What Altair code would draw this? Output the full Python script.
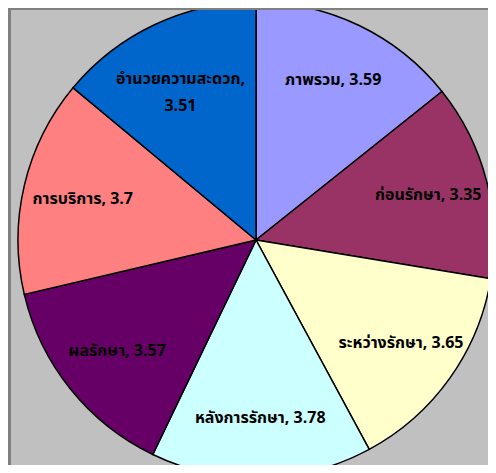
import altair as alt
import pandas as pd

categories = ["ภาพรวม", "ก่อนรักษา", "ระหว่างรักษา", "หลังการรักษา",
              "ผลรักษา", "การบริการ", "อำนวยความสะดวก"]
values = [3.59, 3.35, 3.65, 3.78, 3.57, 3.7, 3.51]
colors = ["#9999FF", "#993366", "#FFFFCC", "#CCFFFF", "#660066", "#FF8080", "#0066CC"]

labels = []
for c, v in zip(categories, values):
    sep = ",\n" if len(c) > 13 else ", "
    labels.append(f"{c}{sep}{v}")

df = pd.DataFrame({"idx": list(range(len(categories))), "cat": categories,
                   "value": values, "label": labels})

W, H = 480, 457
CX, CY = 248, 232
R = 238

base = alt.Chart(df)

arcs = base.mark_arc(stroke="black", strokeWidth=1.5).encode(
    theta=alt.Theta("value:Q", stack=True),
    order=alt.Order("idx:Q", sort="ascending"),
    color=alt.Color("cat:N", scale=alt.Scale(domain=categories, range=colors), legend=None),
    x=alt.value(CX), y=alt.value(CY),
    radius=alt.value(R),
)

text = base.mark_text(fontSize=16, fontWeight="bold", color="black",
                      font="Tahoma, Noto Sans Thai, Loma, Garuda, Noto Sans, DejaVu Sans",
                      lineBreak="\n", lineHeight=27, align="center", baseline="middle").encode(
    theta=alt.Theta("value:Q", stack=True),
    order=alt.Order("idx:Q", sort="ascending"),
    text="label:N",
    x=alt.value(CX), y=alt.value(CY),
    radius=alt.value(178),
)

left_border = base.mark_rule(color="#808080", strokeWidth=3).encode(
    x=alt.value(1.5), y=alt.value(0), y2=alt.value(H))
top_border = base.mark_rule(color="#808080", strokeWidth=3).encode(
    y=alt.value(0), x=alt.value(0), x2=alt.value(W))

chart = alt.layer(arcs, text, left_border, top_border).properties(
    width=W, height=H,
    autosize=alt.AutoSizeParams(type="none"),
    padding=0,
).configure_view(fill="#C0C0C0", stroke=None)

chart.save("out.html", embed_options={"renderer": "svg", "actions": False})
